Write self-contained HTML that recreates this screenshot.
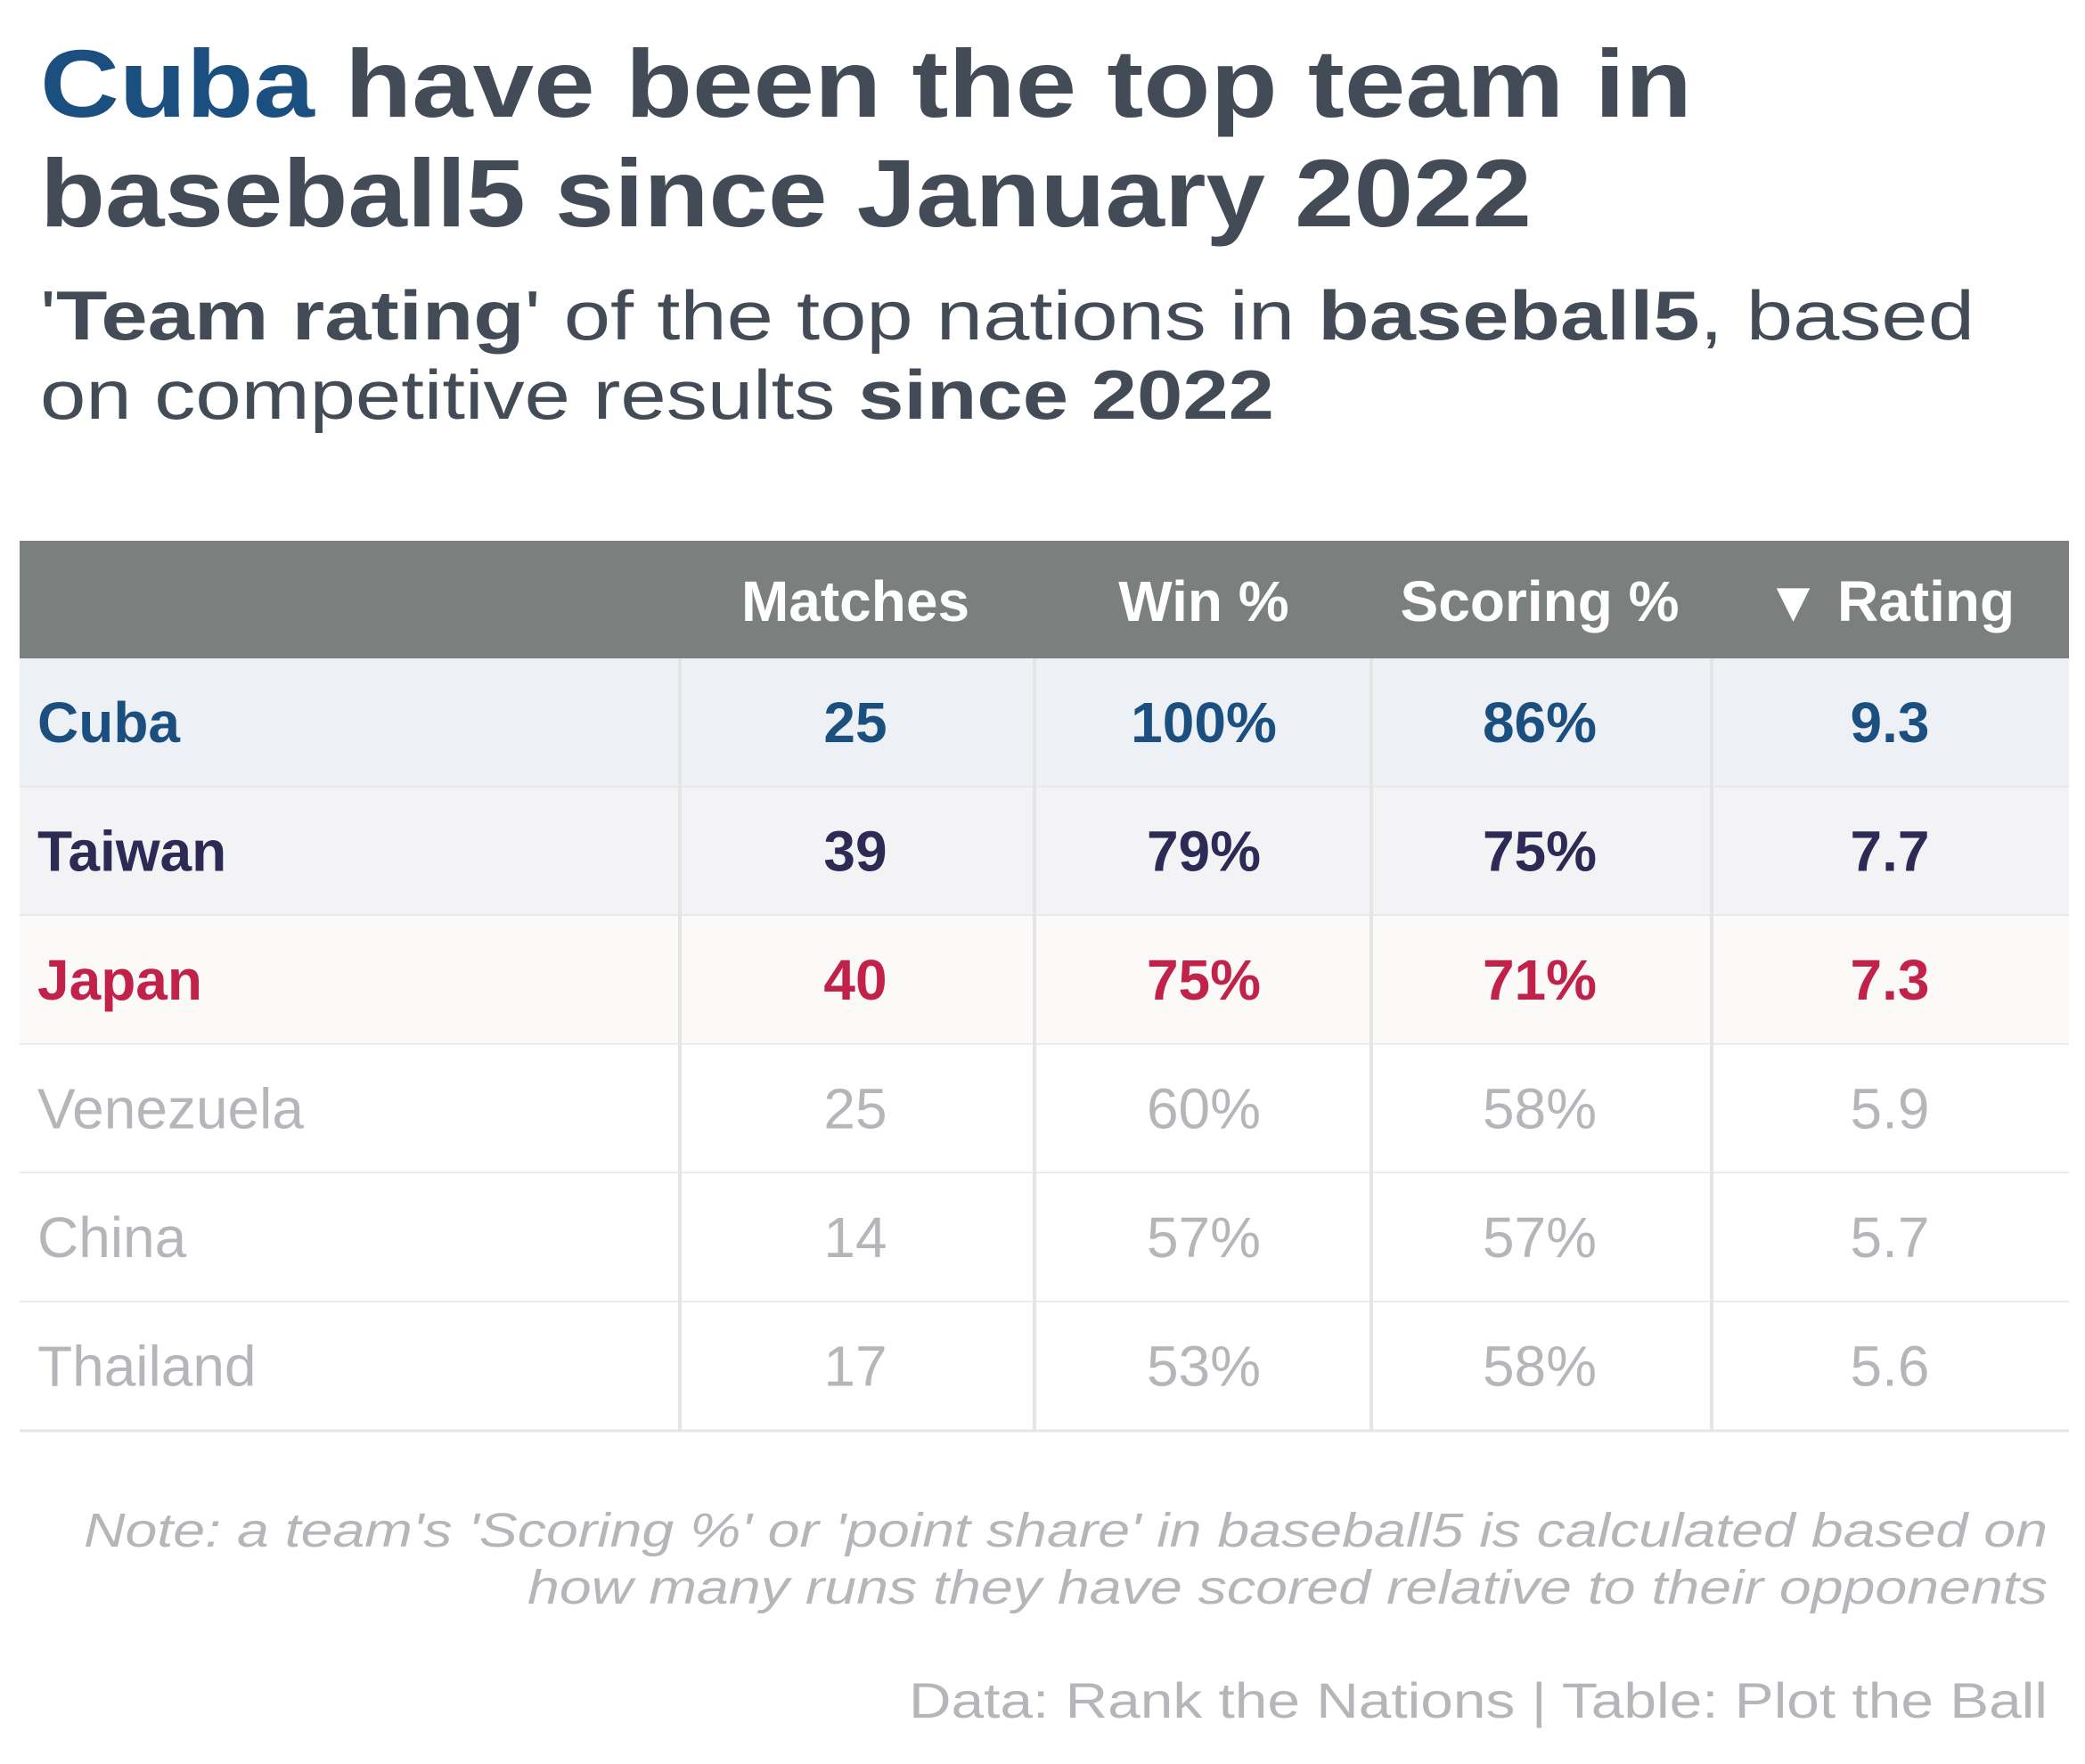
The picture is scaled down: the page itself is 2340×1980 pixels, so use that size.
<!DOCTYPE html>
<html><head><meta charset="utf-8"><style>
html,body{margin:0;padding:0;background:#fff;}
svg{display:block;font-family:"Liberation Sans",sans-serif;}
</style></head><body>
<svg id="chart" width="2340" height="1980" viewBox="0 0 2340 1980" xmlns="http://www.w3.org/2000/svg">
<rect width="2340" height="1980" fill="#fff"/>
<g fill="#434c56" font-weight="bold" font-size="108">
<text x="45" y="131" textLength="1854" lengthAdjust="spacingAndGlyphs"><tspan fill="#1b4f80">Cuba</tspan> have been the top team in</text>
<text x="45" y="254" textLength="1674" lengthAdjust="spacingAndGlyphs">baseball5 since January 2022</text>
</g>
<g fill="#434c56" font-size="78">
<text x="45" y="381" textLength="2171" lengthAdjust="spacingAndGlyphs">'<tspan font-weight="bold">Team rating</tspan>' of the top nations in <tspan font-weight="bold">baseball5</tspan>, based</text>
<text x="45" y="470" textLength="1385" lengthAdjust="spacingAndGlyphs">on competitive results <tspan font-weight="bold">since 2022</tspan></text>
</g>
<rect x="22" y="607" width="2300" height="132" fill="#7b7f7d"/>
<g fill="#fff" font-weight="bold" font-size="64" text-anchor="middle">
<text x="960" y="697">Matches</text>
<text x="1351" y="697">Win %</text>
<text x="1728" y="697">Scoring %</text>
<text x="2121" y="697">▼ Rating</text>
</g>
<g id="rows"></g>
<g fill="#b4b6ba" font-style="italic" font-size="54" text-anchor="end">
<text x="2298" y="1736" textLength="2204" lengthAdjust="spacingAndGlyphs">Note: a team's 'Scoring %' or 'point share' in baseball5 is calculated based on</text>
<text x="2298" y="1800" textLength="1706" lengthAdjust="spacingAndGlyphs">how many runs they have scored relative to their opponents</text>
</g>
<text x="2298" y="1928" fill="#b4b6ba" font-size="56" text-anchor="end" textLength="1278" lengthAdjust="spacingAndGlyphs">Data: Rank the Nations | Table: Plot the Ball</text>
</svg>
<script>
const teams=["Cuba","Taiwan","Japan","Venezuela","China","Thailand"];
const matches=[25,39,40,25,14,17];
const winPct=[100,79,75,60,57,53];
const scoringPct=[86,75,71,58,57,58];
const rating=[9.3,7.7,7.3,5.9,5.7,5.6];
const colors=["#1b4f80","#2d2a55","#c0224a","#b4b6ba","#b4b6ba","#b4b6ba"];
const bgs=["#edf0f5","#f3f3f5","#fbfaf9","#ffffff","#ffffff","#ffffff"];
const NS="http://www.w3.org/2000/svg";
const g=document.getElementById('rows');
const top0=739,rh=144.5;
const colX=[42,960,1351,1728,2121];
const seps=[763,1161,1539,1921];
function mk(tag,attrs){const e=document.createElementNS(NS,tag);for(const k in attrs)e.setAttribute(k,attrs[k]);return e;}
teams.forEach((t,i)=>{
  const y=top0+i*rh;
  const r=mk('rect',{x:22,y:y,width:2300,height:rh,fill:bgs[i]});
  
  
  g.appendChild(r);
  const ln=mk('line',{x1:22,x2:2322,y1:y+rh,y2:y+rh,stroke:'#e6e6e6','stroke-width':3});
  
  
  g.appendChild(ln);
  const vals=[t,String(matches[i]),winPct[i]+'%',scoringPct[i]+'%',rating[i].toFixed(1)];
  vals.forEach((v,j)=>{
    const tx=mk('text',{x:colX[j],y:y+94,fill:colors[i],'font-size':64,'text-anchor':j===0?'start':'middle','font-weight':i<3?'bold':'normal'});
    tx.textContent=v;
    
    
    g.appendChild(tx);
  });
});
seps.forEach(x=>{
  const l=mk('line',{x1:x,x2:x,y1:top0,y2:top0+6*rh,stroke:'#e5e5e5','stroke-width':4});
  
  
  g.appendChild(l);
});
</script>
</body></html>
